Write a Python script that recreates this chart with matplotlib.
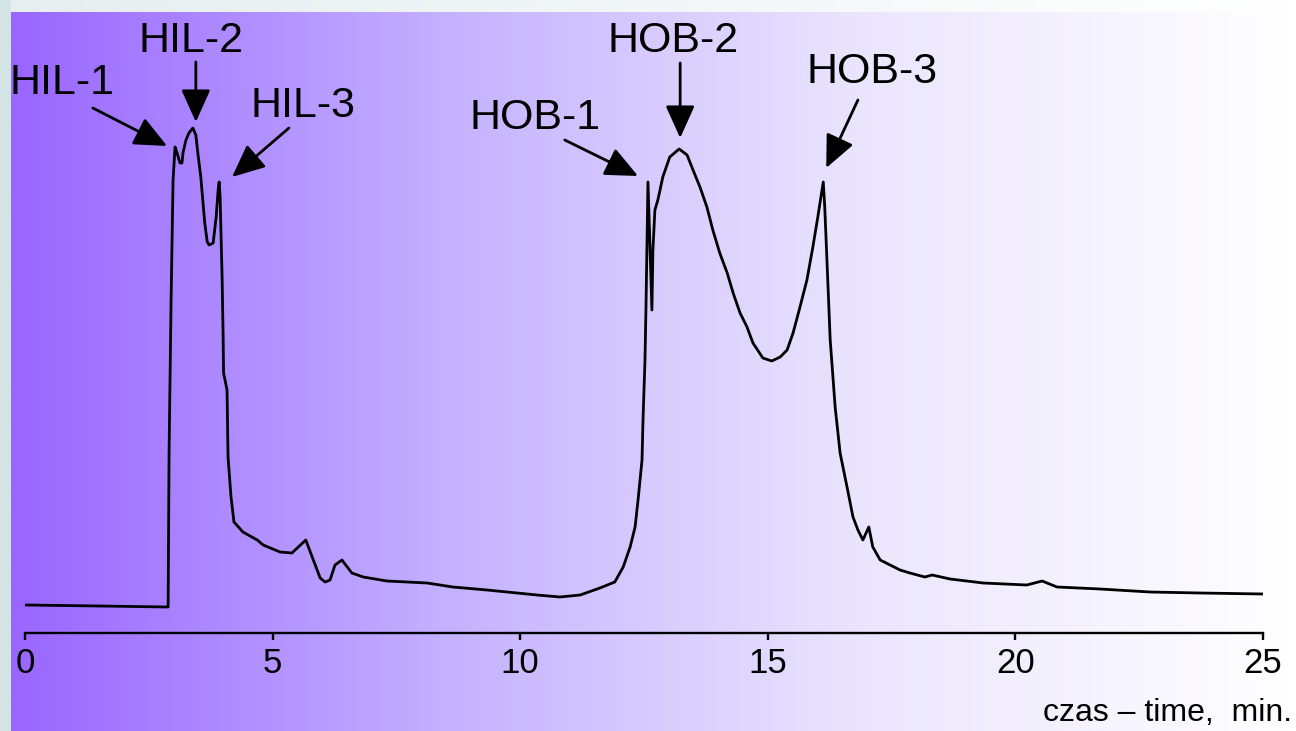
import numpy as np
import matplotlib
matplotlib.use('Agg')
import matplotlib.pyplot as plt
from matplotlib.colors import LinearSegmentedColormap

plt.rcParams['font.family'] = ['Liberation Sans', 'DejaVu Sans']

# chromatogram trace: retention time (min) and detector response (a.u.)
time_min = [0.00, 1.49, 2.89, 2.91, 2.95, 2.99, 3.03, 3.07, 3.13, 3.17,
            3.19, 3.25, 3.31, 3.39, 3.45, 3.49, 3.55, 3.59, 3.63, 3.68,
            3.72, 3.80, 3.86, 3.90, 3.92, 3.94, 3.98, 4.00, 4.01, 4.08,
            4.10, 4.16, 4.22, 4.40, 4.69, 4.81, 5.15, 5.39, 5.67, 5.96,
            6.06, 6.16, 6.26, 6.40, 6.60, 6.83, 7.31, 8.12, 8.64, 9.33,
            10.34, 10.80, 11.21, 11.61, 11.91, 12.08, 12.22, 12.32, 12.38, 12.46,
            12.48, 12.52, 12.54, 12.58, 12.66, 12.68, 12.72, 12.78, 12.88, 13.02,
            13.21, 13.37, 13.49, 13.63, 13.77, 13.89, 14.03, 14.18, 14.30, 14.44,
            14.58, 14.70, 14.90, 15.08, 15.25, 15.39, 15.51, 15.65, 15.79, 15.91,
            16.01, 16.12, 16.15, 16.20, 16.26, 16.36, 16.46, 16.60, 16.72, 16.82,
            16.92, 17.04, 17.12, 17.27, 17.47, 17.67, 17.87, 18.17, 18.32, 18.68,
            19.35, 20.23, 20.54, 20.84, 21.71, 22.72, 23.73, 25.00]
signal = [28, 27, 26, 183, 333, 453, 486, 480, 470, 470,
          480, 493, 500, 505, 498, 480, 456, 433, 410, 391,
          388, 390, 416, 443, 451, 436, 356, 300, 260, 243,
          176, 136, 111, 101, 93, 88, 81, 80, 93, 55,
          51, 53, 68, 73, 60, 56, 52, 50, 46, 43,
          38, 36, 38, 45, 51, 66, 86, 106, 133, 173,
          213, 273, 326, 451, 323, 383, 423, 433, 456, 476,
          484, 478, 463, 446, 426, 403, 380, 360, 340, 320,
          306, 290, 275, 272, 276, 283, 300, 326, 353, 386,
          416, 451, 426, 366, 293, 226, 180, 146, 116, 103,
          93, 106, 86, 73, 68, 63, 60, 56, 58, 54,
          50, 48, 52, 46, 44, 41, 40, 39]

# peak labels: text position and arrow tail/tip (time, response)
peak_names = ['HIL-1', 'HIL-2', 'HIL-3', 'HOB-1', 'HOB-2', 'HOB-3']
label_pos = [(0.75, 550), (3.35, 592), (5.61, 527), (10.30, 515), (13.09, 592), (17.10, 561)]
arrow_tail = [(1.37, 525), (3.45, 571), (5.33, 505), (10.90, 493), (13.23, 570), (16.82, 533)]
arrow_tip = [(2.87, 487), (3.45, 511), (4.18, 456), (12.38, 457), (13.23, 495), (16.18, 465)]

ticks = [0, 5, 10, 15, 20, 25]

W, H = 1296, 731
fig = plt.figure(figsize=(W / 100, H / 100), dpi=100)
fig.patch.set_facecolor('#d3e4e4')

# light strip along the top
top = fig.add_axes([11 / W, 1 - 12 / H, 1 - 11 / W, 12 / H])
top_cmap = LinearSegmentedColormap.from_list('top', ['#e6eeef', '#ffffff'])
top.imshow(np.linspace(0, 1, 256)[None, :], cmap=top_cmap, aspect='auto', extent=[0, 1, 0, 1])
top.set_axis_off()

# purple to white panel
bg = fig.add_axes([11 / W, 0, 1 - 11 / W, 1 - 12 / H])
bg_cmap = LinearSegmentedColormap.from_list('bg', ['#9966ff', '#c3b0ff', '#ebe6fd', '#ffffff'])
bg.imshow(np.linspace(0, 1, 512)[None, :], cmap=bg_cmap, aspect='auto', extent=[0, 1, 0, 1])
bg.set_axis_off()

ax = fig.add_axes([25 / W, 98 / H, (1263 - 25) / W, (H - 98) / H])
ax.patch.set_alpha(0)
ax.plot(time_min, signal, color='black', lw=2.0, solid_joinstyle='round')
ax.set_xlim(0, 25)
ax.set_ylim(0, 633)

for s in ['top', 'left', 'right']:
    ax.spines[s].set_visible(False)
ax.spines['bottom'].set_linewidth(1.7)
ax.set_yticks([])
ax.set_xticks(ticks)
ax.tick_params(axis='x', direction='out', length=5, width=1.7, labelsize=25, pad=5)

for name, tp, tail, tip in zip(peak_names, label_pos, arrow_tail, arrow_tip):
    ax.text(tp[0], tp[1], name, fontsize=31, ha='center', va='center')
    ax.annotate('', xy=tip, xytext=tail,
                arrowprops=dict(arrowstyle='-|>,head_length=1.0,head_width=0.45',
                                mutation_scale=20, lw=2, color='black',
                                shrinkA=0, shrinkB=0))

fig.text(1292 / W, 18 / H, 'czas \u2013 time,  min.', fontsize=23, ha='right', va='center')

fig.savefig('out.png', dpi=100)
